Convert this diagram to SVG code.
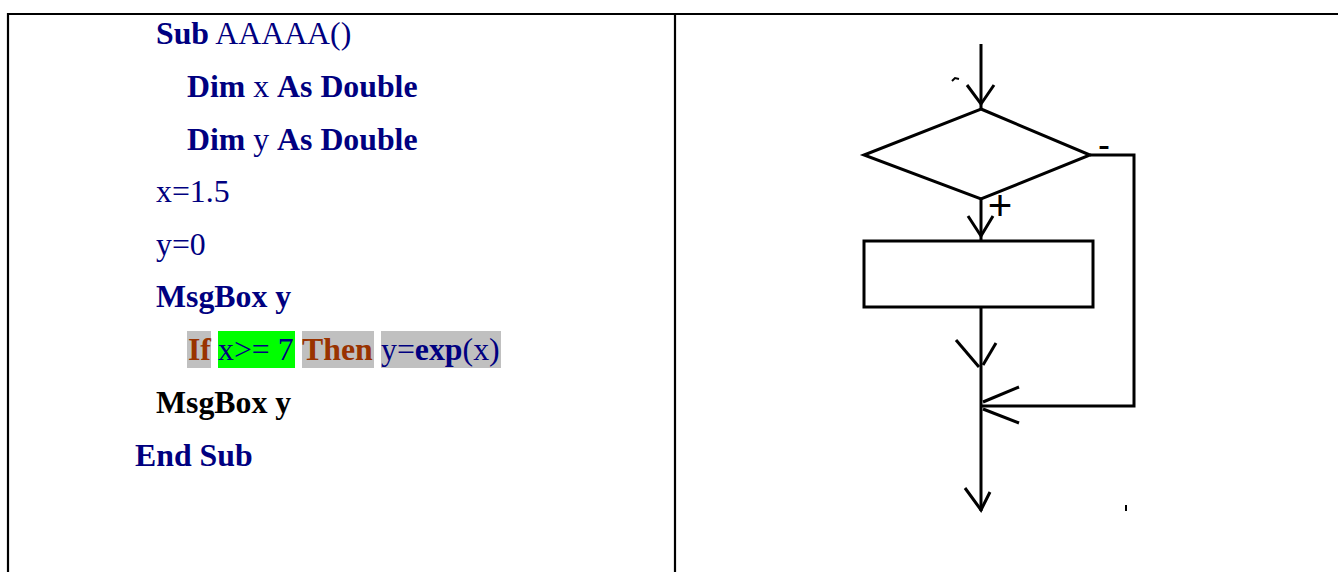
<svg xmlns="http://www.w3.org/2000/svg" width="1338" height="572" viewBox="0 0 1338 572">
<style>
.t{font-family:"Liberation Serif","Times New Roman",serif;font-size:31.8px;fill:#000080}
.b{font-weight:bold}
.br{fill:#993300}
.k{fill:#000000}
.ln{stroke:#000;stroke-width:3;fill:none}
.frame{stroke:#000;stroke-width:2.2;fill:none}
.ah{stroke:#000;stroke-width:3;fill:none}
.lbl{font-family:"Liberation Sans",Arial,sans-serif;fill:#000}
</style>
<rect width="1338" height="572" fill="#fff"/>
<g id="table">
<line class="frame" x1="7" y1="14" x2="1338" y2="14"/>
<line class="frame" x1="8" y1="13" x2="8" y2="572"/>
<line class="frame" x1="675" y1="13" x2="675" y2="572"/>
</g>
<g id="code">
<text class="t" x="156" y="44"><tspan class="b">Sub</tspan> AAAAA()</text>
<text class="t" x="187" y="97"><tspan class="b">Dim</tspan> x <tspan class="b">As Double</tspan></text>
<text class="t" x="187" y="150"><tspan class="b">Dim</tspan> y <tspan class="b">As Double</tspan></text>
<text class="t" x="156" y="202">x=1.5</text>
<text class="t" x="156" y="255">y=0</text>
<text class="t b" x="156" y="307">MsgBox y</text>
<rect x="187" y="331" width="24" height="37" fill="#C0C0C0"/>
<rect x="218" y="331" width="77" height="37" fill="#00FF00"/>
<rect x="302" y="331" width="72" height="37" fill="#C0C0C0"/>
<rect x="381" y="331" width="120" height="37" fill="#C0C0C0"/>
<text class="t b br" x="188" y="360">If</text>
<text class="t" x="218" y="360">x&gt;= 7</text>
<text class="t b br" x="302" y="360">Then</text>
<text class="t" x="381" y="360">y=<tspan class="b">exp</tspan>(x)</text>
<text class="t b k" x="156" y="413">MsgBox y</text>
<text class="t b" x="135" y="466">End Sub</text>
</g>
<g id="decision">
<polygon class="ln" points="981,109 1090,155 981,199 864,155"/>
</g>
<g id="process">
<rect class="ln" x="864" y="241" width="229" height="66"/>
</g>
<g id="connectors">
<line class="ln" x1="981" y1="44" x2="981" y2="109"/>
<polyline class="ah" points="967,85 981,104 994,85"/>
<polyline fill="none" stroke="#000" stroke-width="2" points="952,81 955,78 959,79"/>
<line class="ln" x1="981" y1="199" x2="981" y2="241"/>
<polyline class="ah" points="968,216 981,236 993,216"/>
<polyline class="ln" points="1090,155 1134,155 1134,406 981,406"/>
<polyline class="ah" points="1019,387 983,402"/>
<polyline class="ah" points="983,409 1019,423"/>
<line class="ln" x1="981" y1="307" x2="981" y2="511"/>
<polyline class="ah" points="956,340 979,367"/>
<polyline class="ah" points="996,343 983,365"/>
<polyline class="ah" points="965,488 981,510 990,492"/>
<rect x="1125" y="505" width="2" height="6" fill="#000"/>
</g>
<g id="labels">
<text class="lbl" x="1104" y="157" font-size="36" text-anchor="middle">-</text>
<text class="lbl" x="1000" y="220" font-size="42" text-anchor="middle">+</text>
</g>
</svg>
